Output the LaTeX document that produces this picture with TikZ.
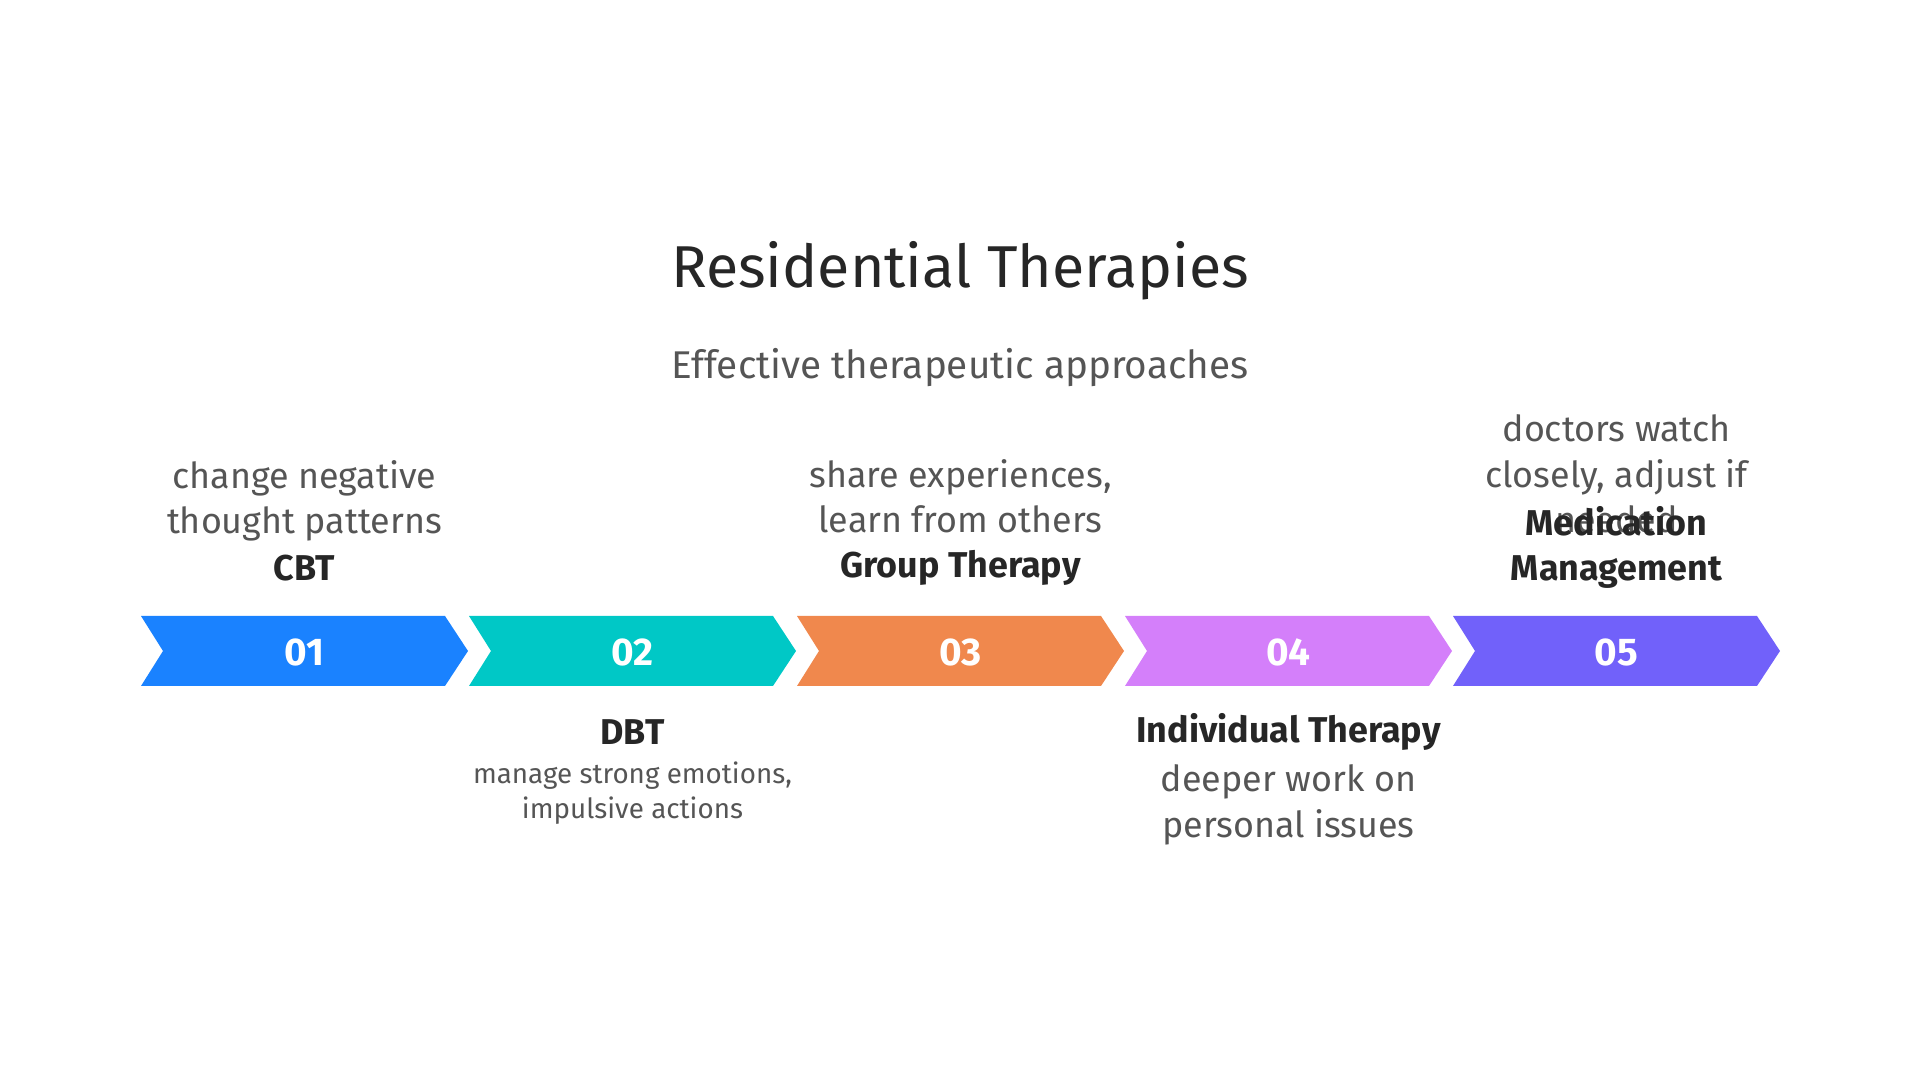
\documentclass[tikz,border=0pt]{standalone}
\usepackage{fontspec}
\setmainfont{Fira Sans}
\usepackage{xcolor}
\definecolor{stepblue}{HTML}{1A82FF}
\definecolor{stepteal}{HTML}{00C8C6}
\definecolor{steporange}{HTML}{F0884D}
\definecolor{stepviolet}{HTML}{D47FFA}
\definecolor{steppurple}{HTML}{7161FA}
\definecolor{titlegray}{HTML}{262626}
\definecolor{descgray}{HTML}{555555}
\usetikzlibrary{positioning}

\tikzset{
  desc/.style={font=\fontsize{10.2}{12.9}\selectfont, text=descgray, align=center},
  smalldesc/.style={font=\fontsize{7.9}{10}\selectfont, text=descgray, align=center},
  steplabel/.style={font=\fontsize{10.2}{12.8}\selectfont\bfseries, text=titlegray, align=center},
}

\begin{document}
\begin{tikzpicture}[x=0.01cm, y=-0.01cm]
            \useasboundingbox (0,0) rectangle (1920,1080);
            % Title and subtitle
            \node[font=\fontsize{16.8}{21}\selectfont, text=titlegray] (title) at (960,271) {Residential Therapies};
            \node[desc, font=\fontsize{11}{13}\selectfont] (subtitle) at (960,368) {Effective therapeutic approaches};
            %%%%%%%%%%%%%%% Chevrons with numbers
            \foreach \i/\col in {1/stepblue,2/stepteal,3/steporange,4/stepviolet,5/steppurple} {
                \pgfmathsetmacro\xl{141+328*(\i-1)}
                \fill[\col] (\xl,616) -- ++(304,0) -- ++(23,35) -- ++(-23,35) -- ++(-304,0) -- ++(22,-35) -- cycle;
                \node[font=\fontsize{11}{12}\selectfont\bfseries, text=white] (num\i) at (\xl+163.5,652) {0\i};
            }
            %%%%%%%%%%%%%%% Labels above
            \node[desc] (desc1) at (304.5,501) {change negative\\thought patterns};
            \node[steplabel] (lab1) at (304.5,568) {CBT};
            \node[desc] (desc3) at (960.5,496) {share experiences,\\learn from others};
            \node[steplabel] (lab3) at (960.5,568) {Group Therapy};
            \node[desc] (desc5) at (1616.5,474) {doctors watch\\closely, adjust if\\needed};
            \node[steplabel] (lab5) at (1616.5,547) {Medication\\Management};
            %%%%%%%%%%%%%%% Labels below
            \node[steplabel] (lab2) at (632.5,732) {DBT};
            \node[smalldesc] (desc2) at (632.5,793) {manage strong emotions,\\impulsive actions};
            \node[steplabel] (lab4) at (1288.5,732) {Individual Therapy};
            \node[desc] (desc4) at (1288.5,805) {deeper work on\\personal issues};
\end{tikzpicture}
\end{document}
